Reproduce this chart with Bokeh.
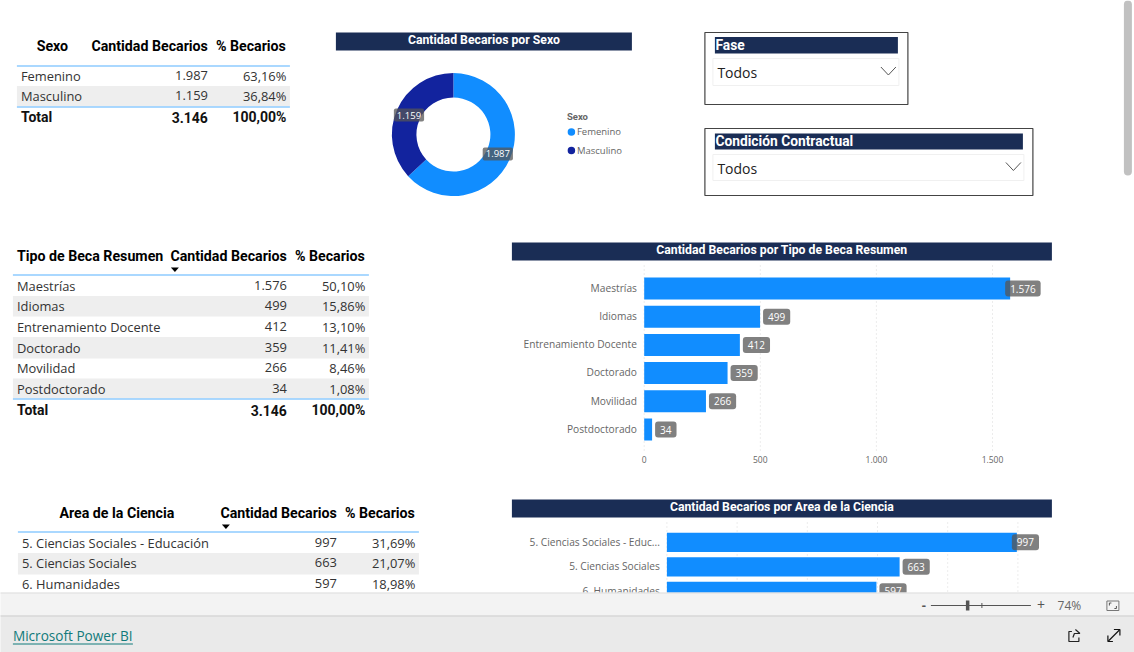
from bokeh.embed import file_html
from bokeh.resources import INLINE
from bokeh.plotting import figure
from bokeh.models import Range1d
from bokeh.core.properties import value
import math

# ---- data ----
sexo_cats = ["Femenino", "Masculino"]
sexo_vals = [1987, 1159]
sexo_pct = ["63,16%", "36,84%"]
sexo_lbl = ["1.987", "1.159"]

beca_cats = ["Maestrías", "Idiomas", "Entrenamiento Docente", "Doctorado", "Movilidad", "Postdoctorado"]
beca_vals = [1576, 499, 412, 359, 266, 34]
beca_pct = ["50,10%", "15,86%", "13,10%", "11,41%", "8,46%", "1,08%"]
beca_ticks = [0, 500, 1000, 1500]
beca_tick_labels = ["0", "500", "1.000", "1.500"]

area_cats = ["5. Ciencias Sociales - Educación", "5. Ciencias Sociales", "6. Humanidades"]
area_axis_cats = ["5. Ciencias Sociales - Educ...", "5. Ciencias Sociales", "6. Humanidades"]
area_vals = [997, 663, 597]
area_pct = ["31,69%", "21,07%", "18,98%"]
area_ticks = [0, 200, 400, 600, 800, 1000]

def miles(v):
    return f"{v:,}".replace(",", ".")

# ---- styles ----
W, H = 1134, 652
SHIFT = 0.6
BODY = value("Open Sans")
HEAD = value("Roboto")
NAVY = "#1a2d55"
BLUE = "#118DFF"
DARK = "#12239E"
LINE = "#8ecbff"
STRIPE = "#eeeeee"
TXT = "#333333"
AXT = "#666666"
FS = "12.9px"

p = figure(width=W, height=H, x_range=Range1d(SHIFT, W + SHIFT), y_range=Range1d(H, 0),
           output_backend="svg", toolbar_location=None, min_border=0,
           x_axis_location=None, y_axis_location=None, outline_line_color=None,
           background_fill_color="white", border_fill_color="white",
           styles={"position": "absolute", "left": "0px", "top": "0px"})
p.xgrid.visible = False
p.ygrid.visible = False


def scale_x(name, origin, px_per_unit):
    origin -= SHIFT
    p.extra_x_ranges[name] = Range1d(-origin / px_per_unit, (W - origin) / px_per_unit)


def scale_y(name, origin, px_per_row):
    p.extra_y_ranges[name] = Range1d((H - origin) / px_per_row, -origin / px_per_row)


def box(x0, x1, y0, y1, fill=None, line=None, width=1):
    p.quad(left=[x0], right=[x1], top=[y0], bottom=[y1], fill_color=fill,
           fill_alpha=1 if fill else 0, line_color=line, line_width=width)


def hline(x0, x1, y, color, width=1):
    p.segment(x0=[x0], x1=[x1], y0=[y], y1=[y], line_color=color, line_width=width)


def txt(x, y, s, size=FS, color=TXT, align="left", font=BODY, style="normal"):
    p.text(x=[x], y=[y], text=[s], text_font=font, text_font_size=size, text_color=color,
           text_align=align, text_baseline="middle", text_font_style=style)


def table(x0, x1, head_y, line_y, rows_y, stripe_ys, total_line, total_y, cats, vals, pcts,
          text_x, col1, col2, head0, head0_align, head0_x, total, total_pct, arrow_x=None):
    for a, b in stripe_ys:
        box(x0, x1, a, b, fill=STRIPE)
    txt(head0_x, head_y - 0.5, head0, "14.2px", "#000000", head0_align, HEAD, "bold")
    txt(col1, head_y - 0.5, "Cantidad Becarios", "14.2px", "#000000", "right", HEAD, "bold")
    txt(col2 - 1, head_y - 0.5, "% Becarios", "14.2px", "#000000", "right", HEAD, "bold")
    hline(x0, x1, line_y, LINE, 1.3)
    for y, c, v, pc in zip(rows_y, cats, vals, pcts):
        txt(text_x, y - 1, c)
        txt(col1, y - 1, miles(v), align="right")
        txt(col2 - 0.5, y - 1, pc, align="right")
    if total_line is not None:
        hline(x0, x1, total_line, LINE, 1.3)
        txt(text_x, total_y - 0.5, "Total", "14px", "#111111", font=HEAD, style="bold")
        txt(col1, total_y - 0.5, total, "14px", "#111111", "right", HEAD, "bold")
        txt(col2 - 0.5, total_y - 0.5, total_pct, "14px", "#111111", "right", HEAD, "bold")
    if arrow_x is not None:
        p.patch([arrow_x - 4, arrow_x + 4, arrow_x], [line_y - 7.5, line_y - 7.5, line_y - 3],
                fill_color="#000000", line_color=None)


# ---- tables ----
table(17, 290, 46, 65.5, [76, 96], [(85.5, 106)], 106.5, 117, sexo_cats, sexo_vals, sexo_pct,
      21, 208, 287, "Sexo", "center", 52.5, miles(sum(sexo_vals)), "100,00%")
table(13, 369, 256, 274.5, [286, 306, 327, 348, 368, 389], [(295.5, 316), (336.5, 358), (378, 398)],
      398.5, 410, beca_cats, beca_vals, beca_pct, 17, 287, 366, "Tipo de Beca Resumen", "left", 17,
      miles(sum(beca_vals)), "100,00%", arrow_x=175)
table(18, 419, 513, 531.5, [543, 563, 584], [(552.5, 574)], None, None, area_cats, area_vals, area_pct,
      22, 337, 416, "Area de la Ciencia", "center", 117, "", "", arrow_x=226)


# ---- title bars ----
def title_bar(x0, x1, y0, y1, s):
    box(x0, x1, y0, y1, fill=NAVY)
    txt((x0 + x1) / 2, (y0 + y1) / 2 - 1.5, s, "12.25px", "white", "center", HEAD, "bold")


title_bar(336, 632, 32, 50, "Cantidad Becarios por Sexo")
title_bar(512, 1052, 242, 260, "Cantidad Becarios por Tipo de Beca Resumen")
title_bar(512, 1052, 499, 517, "Cantidad Becarios por Area de la Ciencia")

# ---- donut ----
total = sum(sexo_vals)
angles = [math.pi / 2]
for v in sexo_vals:
    angles.append(angles[-1] - 2 * math.pi * v / total)
CX, CY = 453.5, 134
p.annular_wedge(x=[CX] * 2, y=[CY] * 2, inner_radius=37, outer_radius=61.5,
                inner_radius_units="screen", outer_radius_units="screen",
                start_angle=angles[:-1], end_angle=angles[1:], direction="clock",
                fill_color=[BLUE, DARK], line_color=None)
for a0, a1, s in zip(angles[:-1], angles[1:], sexo_lbl):
    a = (a0 + a1) / 2
    r = 48.5
    p.text(x=[CX + r * math.cos(a)], y=[CY - r * math.sin(a)], text=[s], text_font=BODY,
           text_font_size="9.5px", text_color="white", text_align="center", text_baseline="middle",
           background_fill_color="#555555", background_fill_alpha=0.75, border_radius=2,
           padding=(3, 3))

txt(567, 115.5, "Sexo", "9.5px", "#666666", font=HEAD, style="bold")
for yy, c, col in zip([131.5, 150], sexo_cats, [BLUE, DARK]):
    p.scatter([571.5], [yy], size=7.5, fill_color=col, line_color=None)
    txt(577, yy - 0.5, c, "9.5px", AXT)


# ---- bar charts ----
def bars(name, x0_px, px_per_unit, row0_px, row_step, bar_h, grid_top, grid_bot, ticks, cats, vals, lab_x):
    scale_x(name, x0_px, px_per_unit)
    scale_y(name, row0_px, row_step)
    rows = list(range(len(cats)))
    g0 = (grid_top - row0_px) / row_step
    g1 = (grid_bot - row0_px) / row_step
    p.segment(x0=ticks, x1=ticks, y0=[g0] * len(ticks), y1=[g1] * len(ticks),
              x_range_name=name, y_range_name=name, line_color="#d9d9d9",
              line_dash="1 3", line_width=1)
    p.text(x=[lab_x] * len(cats), y=[row0_px + i * row_step - 0.8 for i in rows], text=cats,
           text_font=BODY, text_font_size="10.2px", text_color=AXT, text_align="right",
           text_baseline="middle")
    p.hbar(y=rows, left=[0] * len(vals), right=vals, height=bar_h / row_step,
           x_range_name=name, y_range_name=name, fill_color=BLUE, line_color=None)
    p.text(x=vals, y=rows, text=[miles(v) for v in vals], x_range_name=name, y_range_name=name,
           x_offset=[-5 if v == max(vals) else 3 for v in vals], y_offset=0, text_font=BODY,
           text_font_size="10px", text_color="white", text_align="left", text_baseline="middle",
           background_fill_color="#555555", background_fill_alpha=0.75, border_radius=3,
           padding=(5, 4))


bars("beca", 644.3, 116.1 / 500, 288, 28.2, 22, 265, 452, beca_ticks, beca_cats, beca_vals, 637)
p.text(x=beca_ticks, y=[459] * 4, text=beca_tick_labels, x_range_name="beca", text_font=BODY,
       text_font_size="8.5px", text_color=AXT, text_align="center", text_baseline="middle")
bars("area", 667, 70.2 / 200, 541.8, 24.5, 19.3, 522, 600, area_ticks, area_axis_cats, area_vals, 660)

# ---- slicers ----
for x0, x1, y0, y1, by0, by1, dy0, dy1, s in [
        (705, 908, 32, 104, 36.5, 53, 58, 85, "Fase"),
        (705, 1033, 128, 195, 133, 149, 154, 180, "Condición Contractual")]:
    box(x0, x1, y0, y1, fill="white", line="#444444", width=1.2)
    box(715, x1 - 10, by0, by1, fill=NAVY)
    txt(715.5, (by0 + by1) / 2 - 0.5, s, "13.8px", "white", font=HEAD, style="bold")
    box(713, x1 - 9, dy0, dy1, fill="white", line="#f0f0f0")
    txt(717.5, (dy0 + dy1) / 2 + 0.5, "Todos", "14px", "#222222")
    cx = x1 - 19.5
    cy = (dy0 + dy1) / 2 - 1
    p.line([cx - 7.5, cx, cx + 7.5], [cy - 4, cy + 4, cy - 4], line_color="#555555", line_width=1)

# ---- scrollbar ----
p.line([1128, 1128], [4, 171], line_color="#c1c1c1", line_width=8, line_cap="round")

# ---- footer chrome ----
box(0, W + 2, 592, 616, fill="#f3f3f3")
hline(0, W + 2, 592.5, "#dedede")
box(0, W + 2, 616, H, fill="#eaeaea")
hline(0, W + 2, 615.5, "#c8c8c8")
txt(13, 635, "Microsoft Power BI", "13.6px", "#117a7a", font=BODY)
hline(13, 133, 643.5, "#117a7a")
txt(924, 605, "-", "13px", "#555555", "center", style="bold")
hline(931, 1031, 605, "#555555")
box(966, 969.5, 600, 610, fill="#555555")
p.segment(x0=[982], x1=[982], y0=[602.5], y1=[607.5], line_color="#555555")
txt(1041, 604.5, "+", "14px", "#555555", "center")
txt(1069.5, 605, "74%", "12px", "#666666", "center")
box(1107, 1119, 600.5, 610, line="#777777")
p.line([1109.5, 1109.5, 1111.5], [605, 602.5, 602.5], line_color="#555555")
p.line([1116.5, 1116.5, 1114.5], [605.5, 608, 608], line_color="#555555")
# share icon
p.line([1072, 1069, 1069, 1079, 1079], [631, 631, 641, 641, 637], line_color="#222222", line_width=1.2)
p.line([1073, 1074.5, 1080, 1075.5], [637, 633, 633, 629], line_color="#222222", line_width=1.2)
# expand icon
p.segment(x0=[1108.5], x1=[1119.5], y0=[640.5], y1=[629.5], line_color="#111111", line_width=1.2)
p.line([1108, 1108, 1113], [635, 641, 641], line_color="#111111", line_width=1.2)
p.line([1114, 1120, 1120], [629, 629, 635], line_color="#111111", line_width=1.2)

open("out.html", "w").write(file_html(p, INLINE))
